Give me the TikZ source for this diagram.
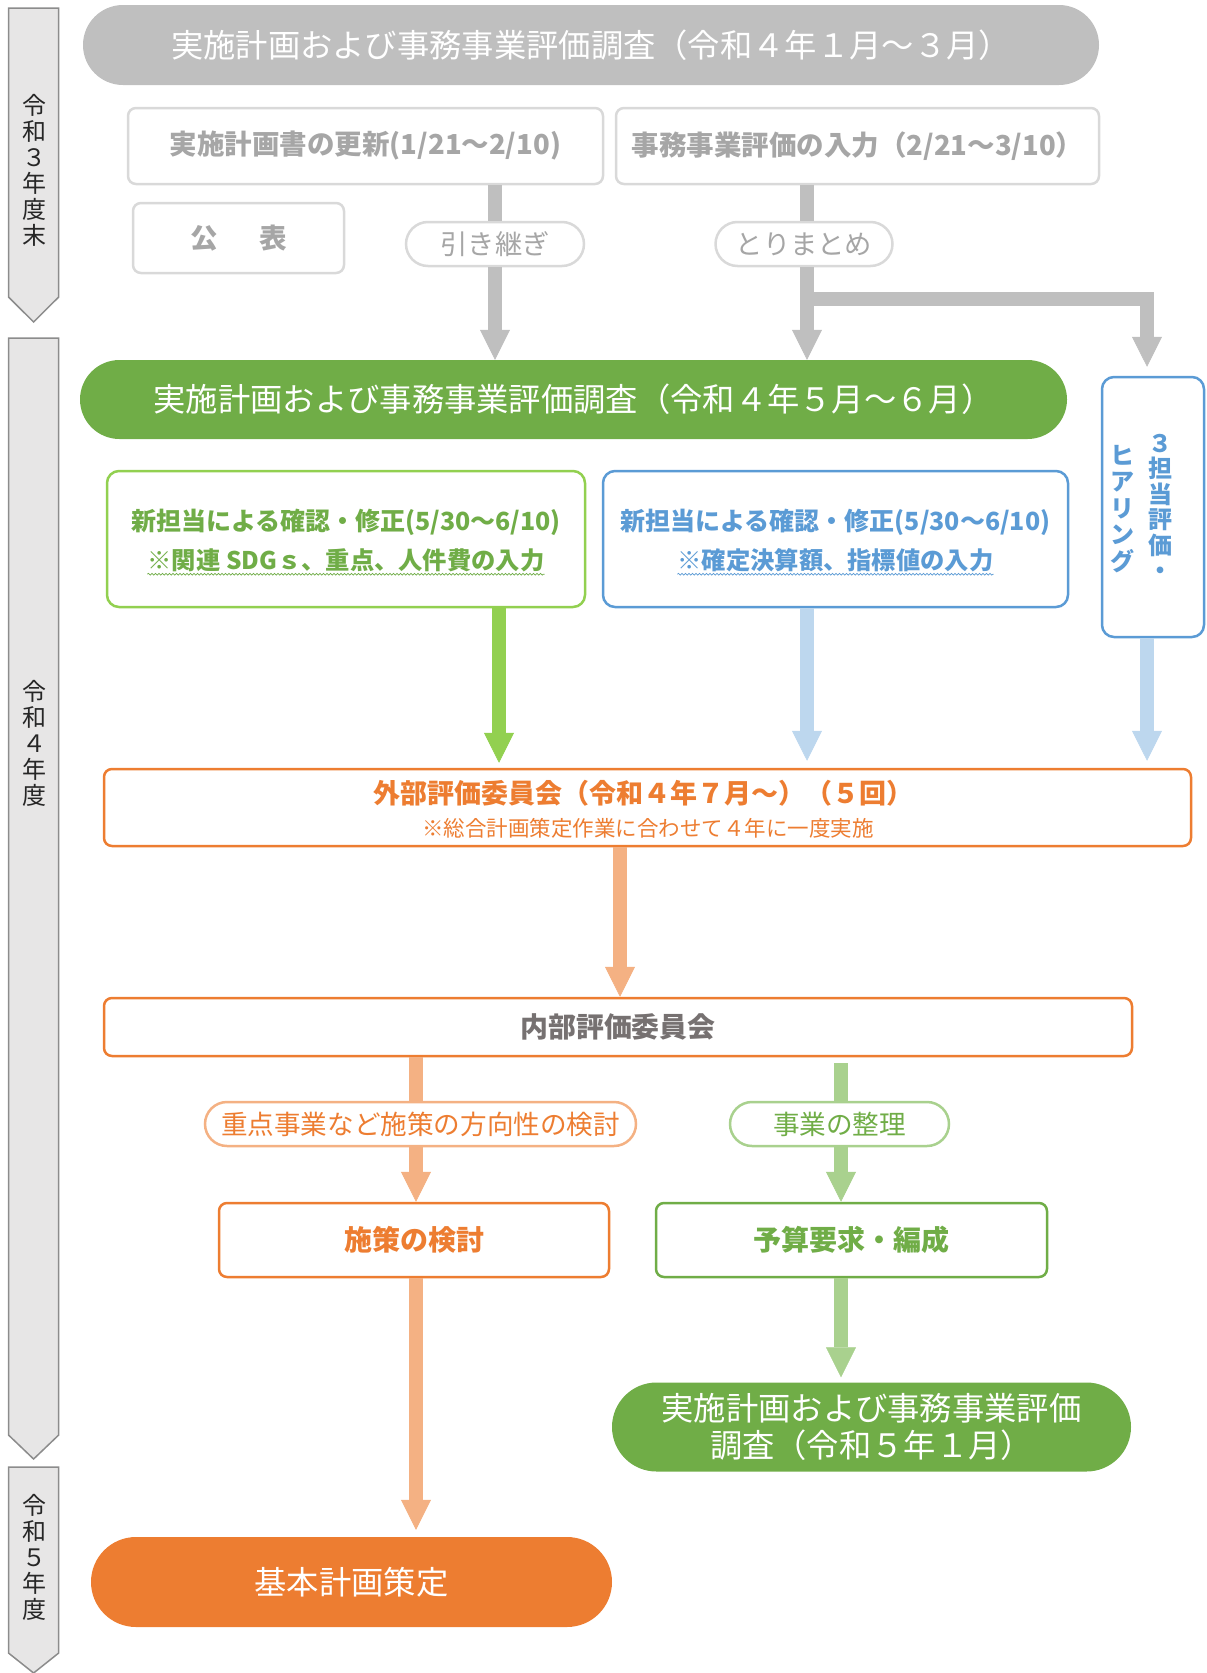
\documentclass[tikz,border=0pt]{standalone}
\usepackage{fontspec}
\setmainfont{Noto Sans CJK JP}
\usetikzlibrary{arrows.meta,decorations.pathmorphing}
\definecolor{cgray}{HTML}{BFBFBF}
\definecolor{cgrayline}{HTML}{D9D9D9}
\definecolor{cgraytext}{HTML}{A6A6A6}
\definecolor{cgreen}{HTML}{70AD47}
\definecolor{cgreenbr}{HTML}{92D050}
\definecolor{cgreenlt}{HTML}{A9D18E}
\definecolor{cblue}{HTML}{5B9BD5}
\definecolor{cbluelt}{HTML}{BDD7EE}
\definecolor{corange}{HTML}{ED7D31}
\definecolor{corangelt}{HTML}{F4B183}
\definecolor{cdark}{HTML}{767171}
\definecolor{cband}{HTML}{E7E6E6}
\definecolor{cbandline}{HTML}{8C8C8C}
\definecolor{cbandtext}{HTML}{262626}
\newcommand\fsz[1]{\fontsize{#1pt}{#1pt}\selectfont}
\begin{document}
\begin{tikzpicture}[x=1pt,y=-1pt,
  band/.style={draw=cbandline,fill=cband,line width=1.5pt,line join=miter},
  bandlbl/.style={inner sep=0pt,align=center,text=cbandtext,font=\fontsize{24pt}{26pt}\selectfont},
  stad/.style={inner sep=0pt,text=white,align=center,font=\fontsize{32.3pt}{37pt}\selectfont},
  graybox/.style={draw=cgrayline,fill=white,line width=2.5pt,rounded corners=8pt,inner sep=0pt,text=cgraytext,font=\fsz{27.5}\bfseries},
  graypill/.style={draw=cgrayline,fill=white,line width=2.5pt,rounded corners=22pt,inner sep=0pt,text=cgraytext,font=\fsz{27.3}},
  cbox/.style={fill=white,line width=2.5pt,rounded corners=12pt,inner sep=0pt},
  txt/.style={inner sep=0pt},
  wavy/.style={decorate,decoration={snake,amplitude=0.9pt,segment length=3.5pt},line width=0.7pt},
  arr/.style={line width=14pt,-{Triangle[width=30pt,length=30pt,line width=0.5pt]}},
  ln/.style={line width=14pt},
  obox/.style={draw=corange,fill=white,line width=2.5pt,rounded corners=8pt,inner sep=0pt},
  pill/.style={fill=white,line width=2.5pt,rounded corners=22pt,inner sep=0pt,font=\fsz{26.6}}
]
\useasboundingbox (0,0) rectangle (1207,1673);
% year bands
\draw[band] (8.5,8) -- (58.7,8) -- (58.7,297) -- (33.6,322) -- (8.5,297) -- cycle;
\draw[band] (8.5,338) -- (58.7,338) -- (58.7,1435) -- (33.6,1459) -- (8.5,1435) -- cycle;
\draw[band] (8.5,1467) -- (58.7,1467) -- (58.7,1653) -- (33.6,1673) -- (8.5,1653) -- cycle;
\node[bandlbl] (y3) at (34,170) {令\\和\\３\\年\\度\\末};
\node[bandlbl] (y4) at (34,743) {令\\和\\４\\年\\度};
\node[bandlbl] (y5) at (34,1557) {令\\和\\５\\年\\度};

% top
\node[stad,fill=cgray,minimum width=1016pt,minimum height=80pt,rounded corners=40pt] (top) at (591,45) {実施計画および事務事業評価調査（令和４年１月～３月）};
\node[graybox,minimum width=475pt,minimum height=76pt] (upd) at (365.5,146) {実施計画書の更新(1/21～2/10)};
\node[graybox,minimum width=483pt,minimum height=76pt] (inp) at (857.5,146) {事務事業評価の入力（2/21～3/10）};
\node[graybox,minimum width=211pt,minimum height=70pt] (pub) at (238.5,238) {公\hspace{1.5em}表};
\node[graypill,minimum width=178pt,minimum height=44pt] (keep) at (495,244) {引き継ぎ};
\node[graypill,minimum width=177pt,minimum height=44pt] (summ) at (804,244) {とりまとめ};

\node[stad,fill=cgreen,minimum width=987pt,minimum height=79pt,rounded corners=39.5pt] (may) at (573.5,399.5) {実施計画および事務事業評価調査（令和４年５月～６月）};
\node[cbox,draw=cblue,minimum width=102pt,minimum height=260pt] (hear) at (1153,507) {};
\node[txt,align=center,text=cblue,font=\fontsize{24pt}{25.5pt}\selectfont\bfseries] (hearA) at (1160,507) {３\\担\\当\\評\\価\\・};
\node[txt,align=center,text=cblue,font=\fontsize{24pt}{26.5pt}\selectfont\bfseries] (hearB) at (1122,509) {ヒ\\ア\\リ\\ン\\グ};

\coordinate (colA) at (495,0);
\coordinate (colG) at (499,0);
\coordinate (colB) at (807,0);
\coordinate (colC) at (1147,0);
\coordinate (brk) at (807,299);

\draw[ln,cgray] (upd.south -| colA) -- (keep.north -| colA);
\draw[arr,cgray] (keep.south -| colA) -- (may.north -| colA);
\draw[ln,cgray] (inp.south -| colB) -- (summ.north -| colB);
\draw[arr,cgray] (summ.south -| colB) -- (may.north -| colB);
\draw[arr,cgray,line join=miter,shorten >=9pt] (brk) -| (hear.north -| colC);

% check boxes
\node[cbox,draw=cgreenbr,minimum width=478pt,minimum height=136pt] (gchk) at (346,539) {};
\node[txt,text=cgreen,font=\fsz{25}\bfseries] (gchk1) at (346,522) {新担当による確認・修正(5/30～6/10)};
\node[txt,text=cgreen,font=\fsz{24.3}\bfseries] (gchk2) at (346,560) {※関連 SDGｓ、重点、人件費の入力};
\draw[wavy,cgreen] ([yshift=-5pt]gchk2.base west) -- ([yshift=-5pt]gchk2.base east);

\node[cbox,draw=cblue,minimum width=465pt,minimum height=136pt] (bchk) at (835.5,539) {};
\node[txt,text=cblue,font=\fsz{25}\bfseries] (bchk1) at (835.5,522) {新担当による確認・修正(5/30～6/10)};
\node[txt,text=cblue,font=\fsz{24.3}\bfseries] (bchk2) at (835.5,560) {※確定決算額、指標値の入力};
\draw[wavy,cblue] ([yshift=-5pt]bchk2.base west) -- ([yshift=-5pt]bchk2.base east);

% external committee
\node[obox,minimum width=1087pt,minimum height=77pt] (ext) at (647.5,807.5) {};
\node[txt,text=corange,font=\fsz{27}\bfseries] (ext1) at (643,793) {外部評価委員会（令和４年７月～）（５回）};
\node[txt,text=corange,font=\fsz{21.5}] (ext2) at (648,828) {※総合計画策定作業に合わせて４年に一度実施};

\draw[arr,cgreenbr,shorten >=5pt] (gchk.south -| colG) -- (ext.north -| colG);
\draw[arr,cbluelt,shorten >=7pt] (bchk.south -| colB) -- (ext.north -| colB);
\draw[arr,cbluelt,shorten >=7pt] (hear.south -| colC) -- (ext.north -| colC);

% internal committee
\coordinate (colO) at (620,0);
\coordinate (colL) at (416,0);
\coordinate (colR) at (841,0);
\node[obox,minimum width=1028pt,minimum height=58pt,text=cdark,font=\fsz{27.9}\bfseries] (int) at (618,1027) {内部評価委員会};
\draw[arr,corangelt] (ext.south -| colO) -- (int.north -| colO);

\node[pill,draw=corangelt,text=corange,minimum width=431pt,minimum height=44pt] (pillL) at (420.5,1124) {重点事業など施策の方向性の検討};
\node[pill,draw=cgreenlt,text=cgreen,minimum width=219pt,minimum height=44pt] (pillR) at (839.5,1124) {事業の整理};
\node[obox,minimum width=390pt,minimum height=74pt,text=corange,font=\fsz{28}\bfseries] (sak) at (414,1240) {施策の検討};
\node[obox,draw=cgreen,minimum width=391pt,minimum height=74pt,text=cgreen,font=\fsz{28}\bfseries] (yos) at (851.5,1240) {予算要求・編成};

\draw[ln,corangelt] (int.south -| colL) -- (pillL.north -| colL);
\draw[arr,corangelt] (pillL.south -| colL) -- (sak.north -| colL);
\draw[ln,cgreenlt,shorten <=6pt] (int.south -| colR) -- (pillR.north -| colR);
\draw[arr,cgreenlt] (pillR.south -| colR) -- (yos.north -| colR);

% final
\node[stad,fill=cgreen,minimum width=519pt,minimum height=89pt,rounded corners=44.5pt] (jan) at (871.5,1427) {実施計画および事務事業評価\\調査（令和５年１月）};
\node[stad,fill=corange,minimum width=521pt,minimum height=90pt,rounded corners=45pt] (kihon) at (351.5,1582) {基本計画策定};
\draw[arr,cgreenlt,shorten >=5pt] (yos.south -| colR) -- (jan.north -| colR);
\draw[arr,corangelt,shorten >=7pt] (sak.south -| colL) -- (kihon.north -| colL);
\end{tikzpicture}
\end{document}
